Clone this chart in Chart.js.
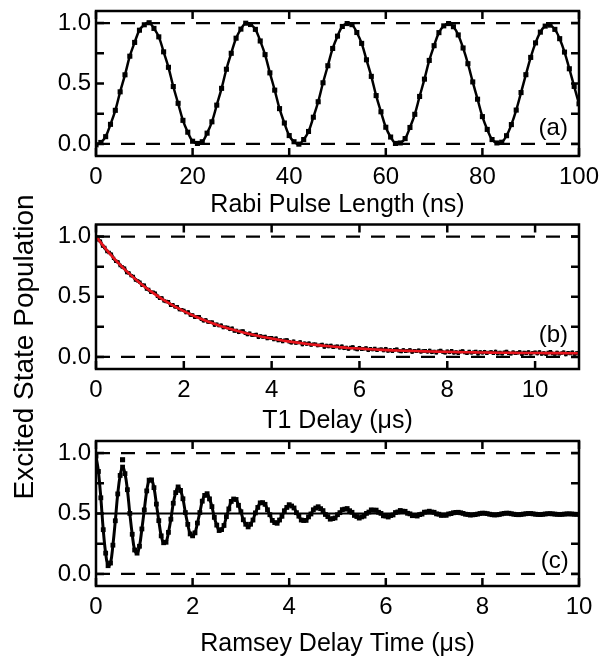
<!DOCTYPE html>
<html>
<head>
<meta charset="utf-8">
<script src="https://cdn.jsdelivr.net/npm/chart.js@4.4.1/dist/chart.umd.min.js"></script>
<style>
  body { margin: 0; background: #fff; }
  #wrap { position: relative; width: 602px; height: 656px; overflow: hidden; background: #fff; }
  canvas { position: absolute; left: 0; }
  #ylab {
    position: absolute; left: -177px; top: 332px; width: 400px; height: 30px;
    line-height: 30px; text-align: center; transform: rotate(-90deg);
    font: 28px "Liberation Sans", Arial, sans-serif; color: #000; white-space: nowrap;
  }
</style>
</head>
<body>
<div id="wrap">
  <canvas id="rabi" width="602" height="220" style="top:0px"></canvas>
  <canvas id="t1" width="602" height="216" style="top:220px"></canvas>
  <canvas id="ramsey" width="602" height="226" style="top:433px"></canvas>
  <div id="ylab">Excited State Population</div>
</div>
<script>
// ---- data ----
// (a) Rabi: one point per ns, 0..100 ns
const RABI_DT = 1;
const rabiY = [
  -0.008, 0.012, 0.060, 0.162, 0.278, 0.431, 0.572, 0.726, 0.840, 0.941,
  0.986, 1.003, 0.956, 0.886, 0.762, 0.634, 0.475, 0.336, 0.195, 0.097,
  0.022, 0.004, 0.018, 0.089, 0.183, 0.321, 0.460, 0.618, 0.750, 0.875,
  0.950, 0.999, 0.988, 0.948, 0.852, 0.739, 0.588, 0.445, 0.292, 0.173,
  0.069, 0.018, -0.002, 0.036, 0.103, 0.221, 0.349, 0.506, 0.647, 0.790,
  0.892, 0.972, 0.996, 0.987, 0.922, 0.832, 0.696, 0.559, 0.400, 0.266,
  0.138, 0.057, 0.004, 0.008, 0.044, 0.136, 0.245, 0.393, 0.536, 0.691,
  0.813, 0.921, 0.977, 0.996, 0.970, 0.902, 0.794, 0.664, 0.513, 0.370,
  0.226, 0.120, 0.036, 0.008, 0.014, 0.068, 0.160, 0.280, 0.425, 0.573,
  0.716, 0.836, 0.925, 0.975, 0.983, 0.948, 0.871, 0.760, 0.622, 0.476,
  0.332
];

// (b) T1 decay: measured points every 0.05 us, fit every 0.25 us
const T1_DT = 0.05;
const t1Y = [
  0.995, 0.972, 0.962, 0.922, 0.909, 0.876, 0.868, 0.854, 0.819, 0.795,
  0.790, 0.759, 0.747, 0.737, 0.701, 0.698, 0.675, 0.669, 0.639, 0.632,
  0.620, 0.596, 0.595, 0.564, 0.560, 0.536, 0.537, 0.530, 0.504, 0.487,
  0.490, 0.466, 0.461, 0.458, 0.429, 0.433, 0.416, 0.417, 0.393, 0.393,
  0.387, 0.368, 0.373, 0.347, 0.348, 0.329, 0.335, 0.334, 0.312, 0.300,
  0.308, 0.289, 0.288, 0.289, 0.264, 0.272, 0.260, 0.264, 0.244, 0.247,
  0.245, 0.229, 0.238, 0.216, 0.220, 0.204, 0.213, 0.215, 0.196, 0.187,
  0.197, 0.181, 0.183, 0.187, 0.164, 0.174, 0.165, 0.171, 0.153, 0.159,
  0.159, 0.145, 0.156, 0.136, 0.142, 0.128, 0.139, 0.142, 0.126, 0.118,
  0.130, 0.116, 0.119, 0.125, 0.103, 0.115, 0.107, 0.115, 0.099, 0.106,
  0.106, 0.094, 0.098, 0.104, 0.083, 0.095, 0.087, 0.096, 0.080, 0.087,
  0.089, 0.077, 0.090, 0.071, 0.079, 0.066, 0.079, 0.084, 0.068, 0.062,
  0.077, 0.064, 0.068, 0.075, 0.055, 0.068, 0.061, 0.070, 0.055, 0.063,
  0.065, 0.054, 0.068, 0.050, 0.058, 0.047, 0.060, 0.065, 0.051, 0.045,
  0.059, 0.047, 0.052, 0.059, 0.040, 0.053, 0.047, 0.056, 0.042, 0.050,
  0.052, 0.042, 0.055, 0.038, 0.046, 0.035, 0.048, 0.054, 0.040, 0.034,
  0.048, 0.038, 0.051, 0.034, 0.042, 0.031, 0.045, 0.050, 0.036, 0.031,
  0.045, 0.034, 0.039, 0.046, 0.027, 0.041, 0.034, 0.044, 0.030, 0.038,
  0.042, 0.031, 0.045, 0.028, 0.037, 0.026, 0.039, 0.045, 0.031, 0.026,
  0.040, 0.030, 0.034, 0.042, 0.023, 0.037, 0.031, 0.041, 0.027, 0.036,
  0.039, 0.028, 0.042, 0.025, 0.034, 0.023, 0.037, 0.043, 0.029, 0.024,
  0.038, 0.027, 0.032, 0.040, 0.021, 0.035, 0.029, 0.039, 0.025, 0.034,
  0.036
];
const T1_FIT_DT = 0.25;
const t1FitY = [
  1.000, 0.885, 0.783, 0.694, 0.614, 0.545, 0.483, 0.429, 0.381, 0.338,
  0.301, 0.268, 0.239, 0.213, 0.190, 0.170, 0.153, 0.137, 0.123, 0.111,
  0.100, 0.091, 0.083, 0.075, 0.070, 0.064, 0.059, 0.055, 0.052, 0.049,
  0.046, 0.044, 0.042, 0.040, 0.039, 0.037, 0.036, 0.035, 0.034, 0.033,
  0.033, 0.032, 0.032, 0.031, 0.031
];

// (c) Ramsey fringes: one point every 0.05 us, 0..10 us
const RAMSEY_DT = 0.05;
const ramseyY = [
  0.975, 0.848, 0.630, 0.366, 0.172, 0.068, 0.090, 0.238, 0.440, 0.662,
  0.815, 0.884, 0.830, 0.697, 0.501, 0.328, 0.198, 0.172, 0.229, 0.372,
  0.530, 0.687, 0.776, 0.778, 0.714, 0.578, 0.441, 0.315, 0.258, 0.262,
  0.344, 0.453, 0.585, 0.673, 0.720, 0.691, 0.622, 0.508, 0.410, 0.331,
  0.315, 0.340, 0.421, 0.508, 0.602, 0.650, 0.664, 0.621, 0.557, 0.468,
  0.404, 0.359, 0.367, 0.401, 0.474, 0.538, 0.600, 0.620, 0.616, 0.568,
  0.515, 0.448, 0.411, 0.389, 0.411, 0.446, 0.505, 0.550, 0.588, 0.590,
  0.576, 0.531, 0.490, 0.443, 0.425, 0.419, 0.446, 0.477, 0.523, 0.550,
  0.573, 0.562, 0.546, 0.507, 0.478, 0.446, 0.442, 0.443, 0.472, 0.496,
  0.531, 0.545, 0.556, 0.540, 0.524, 0.492, 0.474, 0.453, 0.458, 0.463,
  0.490, 0.507, 0.532, 0.536, 0.541, 0.523, 0.510, 0.484, 0.475, 0.462,
  0.472, 0.478, 0.501, 0.512, 0.530, 0.527, 0.528, 0.510, 0.501, 0.481,
  0.479, 0.471, 0.483, 0.488, 0.508, 0.513, 0.525, 0.519, 0.518, 0.502,
  0.497, 0.482, 0.483, 0.479, 0.491, 0.495, 0.511, 0.512, 0.519, 0.512,
  0.510, 0.497, 0.494, 0.484, 0.487, 0.485, 0.496, 0.499, 0.506, 0.509,
  0.510, 0.506, 0.501, 0.494, 0.492, 0.487, 0.489, 0.491, 0.495, 0.500,
  0.503, 0.502, 0.499, 0.494, 0.490, 0.488, 0.489, 0.492, 0.497, 0.501,
  0.503, 0.502, 0.498, 0.494, 0.491, 0.490, 0.492, 0.495, 0.498, 0.500,
  0.500, 0.497, 0.494, 0.492, 0.491, 0.493, 0.496, 0.498, 0.499, 0.497,
  0.495, 0.493, 0.492, 0.493, 0.495, 0.497, 0.497, 0.496, 0.494, 0.493,
  0.493
];
const ramseyStray = [{ x: 0.55, y: 0.945 }];

// axes
const yRange = [-0.1, 1.1];
const yTickValues = [0, 0.5, 1];
const yTickLabels = ['0.0', '0.5', '1.0'];
const yTickMarks = [0, 0.25, 0.5, 0.75, 1];
const dashedLevels = [0, 1];
const rabiTicks = [0, 20, 40, 60, 80, 100];
const t1Ticks = [0, 2, 4, 6, 8, 10];
const ramseyTicks = [0, 2, 4, 6, 8, 10];

const FONT = '"Liberation Sans", Arial, Helvetica, sans-serif';
const TICK = 8;

function series(ys, dt) {
  return ys.map((y, i) => ({ x: +(i * dt).toFixed(3), y: y }));
}

function levelLine(level, xMin, xMax, dashed) {
  return {
    data: [{ x: xMin, y: level }, { x: xMax, y: level }],
    borderColor: '#000', borderWidth: 2.2, borderDash: dashed ? [14, 11] : [],
    pointRadius: 0, tension: 0, order: 5
  };
}

const framePlugin = {
  id: 'frame',
  afterDraw(chart, args, opts) {
    const { ctx, chartArea: a, scales: { x, y } } = chart;
    ctx.save();
    ctx.strokeStyle = '#000';
    ctx.lineWidth = 2.5;
    ctx.strokeRect(a.left, a.top, a.right - a.left, a.bottom - a.top);
    ctx.beginPath();
    opts.xMarks.forEach(v => {
      const px = x.getPixelForValue(v);
      ctx.moveTo(px, a.bottom); ctx.lineTo(px, a.bottom - TICK);
      ctx.moveTo(px, a.top); ctx.lineTo(px, a.top + TICK);
    });
    yTickMarks.forEach(v => {
      const py = y.getPixelForValue(v);
      ctx.moveTo(a.left, py); ctx.lineTo(a.left + TICK, py);
      ctx.moveTo(a.right, py); ctx.lineTo(a.right - TICK, py);
    });
    ctx.stroke();
    ctx.fillStyle = '#000';
    ctx.font = '24px ' + FONT;
    ctx.textAlign = 'right';
    ctx.textBaseline = 'middle';
    ctx.fillText(opts.label, x.getPixelForValue(opts.labelAt[0]), y.getPixelForValue(opts.labelAt[1]));
    ctx.restore();
  }
};

function panel(id, p) {
  return new Chart(document.getElementById(id), {
    type: 'line',
    data: { datasets: p.datasets },
    options: {
      responsive: false,
      animation: false,
      layout: { padding: { top: p.padTop, right: 23, bottom: 0, left: 0 } },
      plugins: {
        legend: { display: false },
        tooltip: { enabled: false },
        frame: { xMarks: p.xTicks, label: p.label, labelAt: p.labelAt }
      },
      scales: {
        x: {
          type: 'linear', min: p.xMin, max: p.xMax,
          afterBuildTicks: s => { s.ticks = p.xTicks.map(v => ({ value: v })); },
          afterFit: s => { s.height = p.xAxisH; s.paddingLeft = 0; s.paddingRight = 0; },
          grid: { display: false, drawTicks: false },
          border: { display: false },
          ticks: {
            color: '#000', font: { family: FONT, size: 24 }, padding: 7,
            maxRotation: 0, autoSkip: false, callback: v => String(v)
          },
          title: {
            display: true, text: p.xTitle, color: '#000',
            font: { family: FONT, size: 25 }, padding: { top: 0, bottom: 0 }
          }
        },
        y: {
          type: 'linear', min: yRange[0], max: yRange[1],
          afterBuildTicks: s => { s.ticks = yTickValues.map(v => ({ value: v })); },
          afterFit: s => { s.width = 96; s.paddingTop = 0; s.paddingBottom = 0; },
          grid: { display: false, drawTicks: false },
          border: { display: false },
          ticks: {
            color: '#000', font: { family: FONT, size: 24 }, padding: 5,
            callback: v => yTickLabels[yTickValues.indexOf(v)]
          }
        }
      }
    },
    plugins: [framePlugin]
  });
}

panel('rabi', {
  padTop: 11, xAxisH: 64, xMin: 0, xMax: 100, xTicks: rabiTicks,
  xTitle: 'Rabi Pulse Length (ns)', label: '(a)', labelAt: [97.7, 0.125],
  datasets: [
    {
      data: series(rabiY, RABI_DT), borderColor: '#000', borderWidth: 2.5,
      pointStyle: 'rect', pointRadius: 3.6, pointBorderWidth: 0,
      pointBackgroundColor: '#000', tension: 0.4, order: 0
    },
    ...dashedLevels.map(l => levelLine(l, 0, 100, true))
  ]
});

panel('t1', {
  padTop: 4.5, xAxisH: 67, xMin: 0, xMax: 11, xTicks: t1Ticks,
  xTitle: 'T1 Delay (\u03bcs)', label: '(b)', labelAt: [10.75, 0.18],
  datasets: [
    {
      data: series(t1FitY, T1_FIT_DT), borderColor: '#e8141c', borderWidth: 2.6,
      pointRadius: 0, tension: 0.4, order: 0
    },
    {
      data: series(t1Y, T1_DT), borderColor: '#000', borderWidth: 3,
      pointStyle: 'rect', pointRadius: 2.4, pointBorderWidth: 0,
      pointBackgroundColor: '#000', tension: 0, order: 1
    },
    ...dashedLevels.map(l => levelLine(l, 0, 11, true))
  ]
});

panel('ramsey', {
  padTop: 8, xAxisH: 73, xMin: 0, xMax: 10, xTicks: ramseyTicks,
  xTitle: 'Ramsey Delay Time (\u03bcs)', label: '(c)', labelAt: [9.79, 0.10],
  datasets: [
    {
      data: series(ramseyY, RAMSEY_DT), borderColor: '#000', borderWidth: 3,
      pointStyle: 'rect', pointRadius: 3.4, pointBorderWidth: 0,
      pointBackgroundColor: '#000', tension: 0.4, order: 0
    },
    {
      data: ramseyStray, showLine: false, pointStyle: 'rect', pointRadius: 3.6,
      pointBorderWidth: 0, pointBackgroundColor: '#000', order: 0
    },
    levelLine(0.5, 0, 10, false),
    ...dashedLevels.map(l => levelLine(l, 0, 10, true))
  ]
});
</script>
</body>
</html>
